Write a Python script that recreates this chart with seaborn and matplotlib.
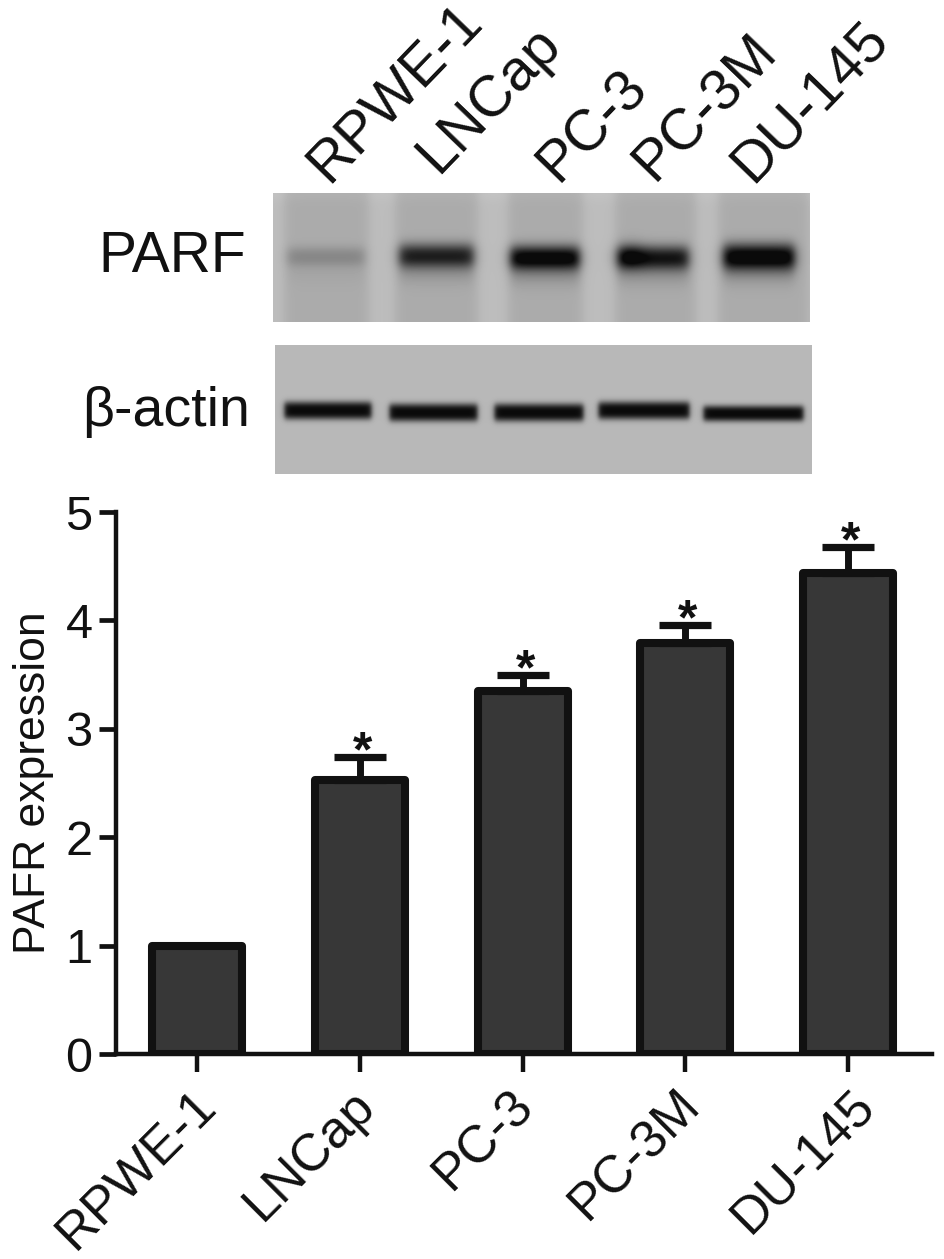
import numpy as np
import pandas as pd
import seaborn as sns
import matplotlib
matplotlib.use("Agg")
import matplotlib.pyplot as plt
from matplotlib.transforms import ScaledTranslation

W, H = 945, 1259

cells = ["RPWE-1", "LNCap", "PC-3", "PC-3M", "DU-145"]
means = [1.0, 2.53, 3.35, 3.79, 4.44]
err_top = [np.nan, 2.74, 3.50, 3.96, 4.68]

# western blot bands, in pixels of each strip
parf_left = [14, 126, 237, 344, 450]
parf_right = [91, 200, 306, 415, 521]
parf_mid = [63, 62, 64, 64, 63]
parf_dark = [0.13, 0.52, 0.66, 0.56, 0.68]
parf_half = [10, 12, 12, 12, 13]
lane_left = [11, 122, 235, 342, 445]
lane_right = [95, 204, 309, 422, 535]

actin_left = [9, 114, 219, 323, 428]
actin_right = [96, 202, 308, 414, 528]
actin_mid = [65, 67, 67, 65, 68]
actin_half = [9, 9, 9, 9, 8]

# label anchors in picture pixels
top_x = [328, 438, 558, 654, 752]
top_y = [184, 175, 184, 183, 184]
tick_shift = [-6, -10, -14, -10, 2]

sns.set_theme(style="ticks")
plt.rcParams["font.family"] = ["Liberation Sans", "DejaVu Sans"]


def px_axes(x0, y0, x1, y1):
    return fig.add_axes([x0 / W, 1 - y1 / H, (x1 - x0) / W, (y1 - y0) / H])


def step(x, a, b, s):
    return 0.5 * (np.tanh((x - a) / s) - np.tanh((x - b) / s))


def blot_top():
    yy, xx = np.mgrid[0:129, 0:537]
    img = np.full(xx.shape, 0.74)
    for i in range(5):
        lane = step(xx, lane_left[i], lane_right[i], 6)
        img -= 0.07 * lane
        band = step(xx, parf_left[i], parf_right[i], 6)
        img -= parf_dark[i] * band * np.exp(-(np.abs(yy - parf_mid[i]) / parf_half[i]) ** 2.2)
        img -= parf_dark[i] * 0.18 * band * np.exp(-((yy - parf_mid[i] - 14) / 14.0) ** 2)
    # thick left end of the PC-3M band
    img -= 0.16 * np.exp(-((xx - 357) / 14.0) ** 2 - ((yy - 62) / 13.0) ** 2)
    img += 0.02 * np.exp(-(yy / 8.0) ** 2)
    return np.clip(img, 0.04, 1)


def blot_bottom():
    yy, xx = np.mgrid[0:129, 0:537]
    img = np.full(xx.shape, 0.72)
    for i in range(5):
        band = step(xx, actin_left[i], actin_right[i], 3)
        img -= 0.68 * band * np.exp(-(np.abs(yy - actin_mid[i]) / actin_half[i]) ** 3)
    return np.clip(img, 0.03, 1)


fig = plt.figure(figsize=(W / 100, H / 100), dpi=100)

ax1 = px_axes(273, 193, 810, 322)
ax1.imshow(blot_top(), cmap="gray", vmin=0, vmax=1, aspect="auto")
ax1.axis("off")
ax2 = px_axes(275, 345, 812, 474)
ax2.imshow(blot_bottom(), cmap="gray", vmin=0, vmax=1, aspect="auto")
ax2.axis("off")

fig.text(246 / W, 1 - 272 / H, "PARF", fontsize=41, ha="right", va="baseline", color="#111111")
fig.text(250 / W, 1 - 426 / H, "β-actin", fontsize=40, ha="right", va="baseline", color="#111111")

for name, tx, ty in zip(cells, top_x, top_y):
    fig.text(tx / W, 1 - ty / H, name, fontsize=41.5, rotation=46, rotation_mode="anchor",
             ha="left", va="baseline", color="#111111")

# bar chart
ax = px_axes(116, 512, 932, 1054)
df = pd.DataFrame({"cell": cells, "mean": means})
sns.barplot(data=df, x="cell", y="mean", color="#373737", saturation=1, width=0.553,
            edgecolor="#111111", linewidth=5.8, errorbar=None, ax=ax)
for bar in ax.patches:
    bar.set_joinstyle("round")

for i in range(1, 5):
    ax.errorbar(i, means[i], yerr=[[0], [err_top[i] - means[i]]], color="#111111",
                elinewidth=5, capsize=19, capthick=5.2, zorder=1)
    ax.annotate("*", (i, err_top[i]), xytext=(2, -14), textcoords="offset points",
                ha="center", va="bottom", fontsize=36, fontweight="bold", color="#111111")

ax.set_xlim(-0.498, 4.516)
ax.set_ylim(0, 5)
ax.set_yticks([0, 1, 2, 3, 4, 5])
ax.set_xlabel("")
ax.set_ylabel("PAFR expression", fontsize=32, color="#111111", labelpad=8)
sns.despine(ax=ax)
for side in ["left", "bottom"]:
    ax.spines[side].set_linewidth(3.2)
    ax.spines[side].set_color("#111111")
ax.tick_params(axis="y", length=12, width=3.4, color="#111111", labelsize=35, labelcolor="#111111", pad=5)
ax.tick_params(axis="x", length=13, width=3.2, color="#111111", labelsize=37.5, labelcolor="#111111", pad=6)
plt.setp(ax.get_xticklabels(), rotation=45, ha="right", rotation_mode="anchor")
for lab, dx in zip(ax.get_xticklabels(), tick_shift):
    lab.set_transform(lab.get_transform() + ScaledTranslation(dx / 100, 0, fig.dpi_scale_trans))

fig.savefig("out.png", dpi=100)
